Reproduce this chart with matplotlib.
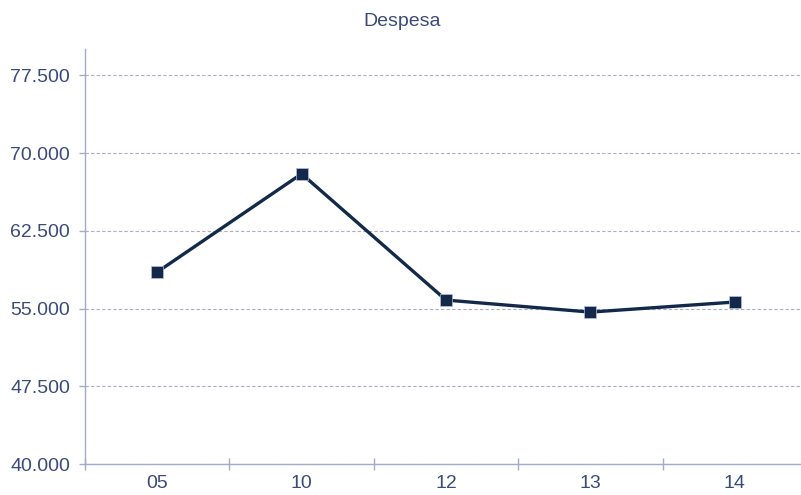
import matplotlib
matplotlib.use("Agg")
import matplotlib.pyplot as plt
from matplotlib.ticker import FuncFormatter, FixedLocator

anos = ["05", "10", "12", "13", "14"]
despesa = [58530, 68000, 55830, 54670, 55640]
yticks = [40000, 47500, 55000, 62500, 70000, 77500]

txt = "#3b4a7c"
eixo = "#a3abcb"
linha = "#13294b"

plt.rcParams['font.family'] = ['Liberation Sans', 'DejaVu Sans']

fig = plt.figure(figsize=(8.01, 4.95), dpi=100)
ax = fig.add_axes([85/801, 30.7/495, 722/801, 415/495])

x = range(len(anos))
ax.plot(x, despesa, color=linha, lw=2.4, marker="s", markersize=9,
        markerfacecolor=linha, markeredgecolor="#b8c0d8", markeredgewidth=0.5, zorder=3)

ax.set_xlim(-0.5, len(anos) - 0.5)
ax.set_ylim(40000, 80000)
ax.set_yticks(yticks)
ax.yaxis.set_major_formatter(FuncFormatter(lambda v, p: f"{v:,.0f}".replace(",", ".")))
ax.grid(axis="y", color="#a9aec4", linestyle=(0, (3, 2)), linewidth=0.8)

ax.set_xticks(list(x))
ax.set_xticklabels(anos)
ax.tick_params(axis="x", which="major", length=0, pad=8, labelsize=14, labelcolor=txt)
ax.xaxis.set_minor_locator(FixedLocator([i - 0.5 for i in range(len(anos) + 1)]))
ax.tick_params(axis="x", which="minor", length=8, direction="inout", color=eixo, width=1)
ax.tick_params(axis="y", length=4.3, color=eixo, width=1, pad=6.5, labelsize=14, labelcolor=txt)

for s in ["top", "right"]:
    ax.spines[s].set_visible(False)
for s in ["left", "bottom"]:
    ax.spines[s].set_color(eixo)
    ax.spines[s].set_linewidth(1)

fig.text(402/801, 1 - 22/495, "Despesa", ha="center", va="center", fontsize=14, color=txt)

fig.savefig("out.png", dpi=100)
